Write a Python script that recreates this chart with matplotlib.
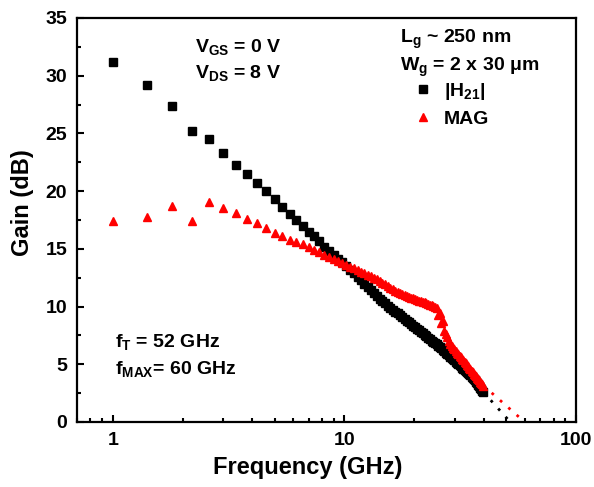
import matplotlib
matplotlib.use("Agg")
import matplotlib.pyplot as plt
from matplotlib.ticker import MultipleLocator, LogLocator, NullFormatter, FixedLocator, FixedFormatter

FREQ_GHZ = [
    1.0, 1.4, 1.8, 2.2, 2.6, 3.0, 3.4, 3.8, 4.2, 4.6, 5.0, 5.4, 5.8, 6.2, 6.6,
    7.0, 7.4, 7.8, 8.2, 8.6, 9.0, 9.4, 9.8,
    10.2, 10.6, 11.0, 11.4, 11.8, 12.2, 12.6, 13.0, 13.4, 13.8, 14.2, 14.6,
    15.0, 15.4, 15.8, 16.2, 16.6, 17.0, 17.4, 17.8, 18.2, 18.6, 19.0, 19.4,
    19.8, 20.2, 20.6, 21.0, 21.4, 21.8, 22.2, 22.6, 23.0, 23.4, 23.8, 24.2,
    24.6, 25.0, 25.4, 25.8, 26.2, 26.6, 27.0, 27.4, 27.8, 28.2, 28.6, 29.0,
    29.4, 29.8, 30.2, 30.6, 31.0, 31.4, 31.8, 32.2, 32.6, 33.0, 33.4, 33.8,
    34.2, 34.6, 35.0, 35.4, 35.8, 36.2, 36.6, 37.0, 37.4, 37.8, 38.2, 38.6,
    39.0, 39.4, 39.8,
]
H21_DB = [
    31.2, 29.2, 27.4, 25.2, 24.5, 23.3, 22.3, 21.5, 20.7, 20.0, 19.3, 18.6, 18.0,
    17.5, 17.0, 16.5, 16.1, 15.7, 15.2, 14.8, 14.45, 14.15, 13.85,
    13.53, 13.19, 12.87, 12.56, 12.26, 11.98, 11.70, 11.43, 11.16, 10.91, 10.66, 10.46,
    10.27, 10.09, 9.91, 9.74, 9.57, 9.41, 9.25, 9.09, 8.94, 8.78, 8.63, 8.49,
    8.35, 8.21, 8.07, 7.94, 7.81, 7.68, 7.55, 7.42, 7.30, 7.18, 7.06, 6.95,
    6.83, 6.72, 6.61, 6.50, 6.37, 6.25, 6.13, 6.01, 5.90, 5.78, 5.66, 5.55,
    5.44, 5.33, 5.22, 5.12, 5.01, 4.91, 4.81, 4.70, 4.60, 4.51, 4.41, 4.31,
    4.22, 4.12, 4.03, 3.94, 3.84, 3.73, 3.60, 3.47, 3.34, 3.22, 3.09, 2.97,
    2.84, 2.72, 2.60,
]
MAG_DB = [
    17.4, 17.8, 18.7, 17.4, 19.1, 18.5, 18.1, 17.6, 17.2, 16.8, 16.4, 16.1, 15.8,
    15.6, 15.4, 15.2, 14.9, 14.7, 14.5, 14.3, 14.1, 13.95, 13.8,
    13.62, 13.46, 13.30, 13.16, 13.01, 12.87, 12.74, 12.61, 12.49, 12.36, 12.25, 12.08,
    11.92, 11.76, 11.60, 11.50, 11.35, 11.25, 11.15, 11.06, 10.97, 10.93, 10.84, 10.75,
    10.72, 10.63, 10.60, 10.52, 10.49, 10.42, 10.39, 10.32, 10.25, 10.17, 10.10, 10.03,
    9.97, 9.90, 9.30, 9.45, 8.60, 8.75, 7.90, 7.60, 7.35, 7.00, 6.75, 6.60,
    6.45, 6.31, 6.16, 6.02, 5.88, 5.74, 5.60, 5.46, 5.33, 5.20, 5.07, 4.94,
    4.81, 4.68, 4.56, 4.44, 4.31, 4.19, 4.07, 3.96, 3.84, 3.72, 3.61, 3.50,
    3.38, 3.27, 3.16,
]

# extrapolation down to 0 dB (fT and fMAX)
FT_LINE_F = [39.8, 52.0]
FT_LINE_G = [2.60, 0.0]
FMAX_LINE_F = [39.8, 60.0]
FMAX_LINE_G = [3.16, 0.0]

FONT = "Liberation Sans"
TEXT_SIZE = 14

plt.rcParams["font.family"] = [FONT, "DejaVu Sans"]
plt.rcParams["font.weight"] = "bold"
plt.rcParams["mathtext.fontset"] = "custom"
plt.rcParams["mathtext.rm"] = f"{FONT}:bold"
plt.rcParams["mathtext.it"] = f"{FONT}:bold"
plt.rcParams["mathtext.bf"] = f"{FONT}:bold"

fig = plt.figure(figsize=(5.94, 4.87), dpi=100)
ax = fig.add_axes([77 / 594, 1 - 422 / 487, 499 / 594, 404 / 487])

ax.plot(FT_LINE_F, FT_LINE_G, color="black", linestyle=(0, (1, 3)), linewidth=2)
ax.plot(FMAX_LINE_F, FMAX_LINE_G, color="red", linestyle=(0, (1, 3)), linewidth=2)
ax.plot(FREQ_GHZ, H21_DB, linestyle="none", marker="s", markersize=5.6,
        color="black", label=r"|H$_{\rm 21}$|")
ax.plot(FREQ_GHZ, MAG_DB, linestyle="none", marker="^", markersize=6.3,
        color="red", label="MAG")

ax.set_xscale("log")
ax.set_xlim(0.7, 100)
ax.set_ylim(0, 35)

ax.xaxis.set_major_locator(FixedLocator([1, 10, 100]))
ax.xaxis.set_major_formatter(FixedFormatter(["1", "10", "100"]))
ax.xaxis.set_minor_locator(LogLocator(base=10, subs=[2, 3, 4, 5, 6, 7, 8, 9], numticks=20))
ax.xaxis.set_minor_formatter(NullFormatter())
ax.yaxis.set_major_locator(MultipleLocator(5))
ax.yaxis.set_minor_locator(MultipleLocator(2.5))

ax.tick_params(which="both", direction="in", top=False, right=False,
               width=1.5, labelsize=TEXT_SIZE)
ax.tick_params(axis="y", pad=7)
ax.tick_params(axis="x", pad=7)
ax.tick_params(which="major", length=5)
ax.tick_params(which="minor", length=3)
for spine in ax.spines.values():
    spine.set_linewidth(1.6)

ax.set_xlabel("Frequency (GHz)", fontsize=17, fontweight="bold", labelpad=5)
ax.set_ylabel("Gain (dB)", fontsize=17, fontweight="bold", labelpad=8)
ax.xaxis.label.set_x(0.463)
ax.yaxis.label.set_y(0.543)

ax.text(0.2365, 0.9166, r"V$_{\rm GS}$ = 0 V", transform=ax.transAxes,
        fontsize=TEXT_SIZE, va="baseline")
ax.text(0.2365, 0.8507, r"V$_{\rm DS}$ = 8 V", transform=ax.transAxes,
        fontsize=TEXT_SIZE, va="baseline")
ax.text(0.647, 0.937, r"L$_{\rm g}$ ~ 250 nm", transform=ax.transAxes,
        fontsize=TEXT_SIZE, va="baseline")
ax.text(0.647, 0.870, r"W$_{\rm g}$ = 2 x 30 μm", transform=ax.transAxes,
        fontsize=TEXT_SIZE, va="baseline")
ax.text(0.076, 0.186, r"f$_{\rm T}$ = 52 GHz", transform=ax.transAxes,
        fontsize=TEXT_SIZE, va="baseline")
ax.text(0.076, 0.119, r"f$_{\rm MAX}$= 60 GHz", transform=ax.transAxes,
        fontsize=TEXT_SIZE, va="baseline")

ax.legend(loc="upper left", bbox_to_anchor=(0.674, 0.844), frameon=False,
          fontsize=TEXT_SIZE, handlelength=1.0, handletextpad=0.58,
          labelspacing=0.41, borderpad=0, borderaxespad=0)

fig.savefig("out.png", dpi=100)
